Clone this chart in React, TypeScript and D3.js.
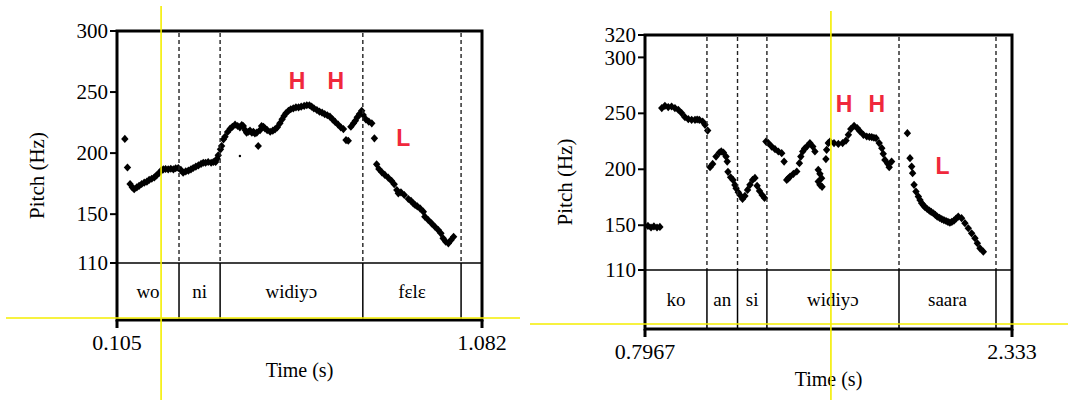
import React from "react";
import * as d3 from "d3";

// ---------- Left panel data ----------
const leftTimeDomain = [0.105, 1.082];
const leftPitchMax = 300;
const leftPitchTicks = [110, 150, 200, 250, 300];
const leftTimeTickLabels = ["0.105", "1.082"];
const leftBoundaries = [0.105, 0.271, 0.381, 0.763, 1.026, 1.082];
const leftWords = ["wo", "ni", "widiyɔ", "fɛlɛ", ""];
const leftTimes = [
  0.126, 0.133, 0.14, 0.146, 0.151, 0.158, 0.164, 0.171, 0.178, 0.185, 0.191, 0.198, 0.205, 0.211,
  0.217, 0.223, 0.229, 0.235, 0.242, 0.249, 0.256, 0.262, 0.269, 0.276, 0.282, 0.289, 0.296, 0.303,
  0.309, 0.316, 0.323, 0.33, 0.336, 0.342, 0.349, 0.357, 0.363, 0.369, 0.373, 0.376, 0.382, 0.385,
  0.39, 0.394, 0.401, 0.408, 0.414, 0.421, 0.428, 0.434, 0.439, 0.443, 0.448, 0.452, 0.457, 0.461,
  0.466, 0.47, 0.474, 0.479, 0.483, 0.488, 0.492, 0.497, 0.501, 0.507, 0.515, 0.522, 0.528, 0.534,
  0.541, 0.547, 0.552, 0.557, 0.564, 0.57, 0.577, 0.584, 0.591, 0.598, 0.606, 0.613, 0.62, 0.626,
  0.632, 0.64, 0.647, 0.654, 0.661, 0.668, 0.675, 0.682, 0.689, 0.697, 0.704, 0.711, 0.718, 0.724,
  0.731, 0.738, 0.743, 0.748, 0.754, 0.76, 0.764, 0.771, 0.779, 0.787, 0.794, 0.8, 0.806, 0.814,
  0.822, 0.831, 0.84, 0.847, 0.854, 0.858, 0.865, 0.874, 0.885, 0.892, 0.898, 0.903, 0.909, 0.916,
  0.925, 0.929, 0.938, 0.947, 0.956, 0.965, 0.972, 0.978, 0.985, 0.992, 0.999, 1.006,
];
const leftPitches = [
  211.6, 188.2, 174.7, 172.0, 170.4, 172.0, 173.1, 174.7, 175.8, 176.6, 178.0, 179.0, 180.2, 181.8,
  183.5, 185.6, 186.7, 187.0, 186.7, 187.2, 186.7, 187.6, 187.8, 186.2, 184.0, 185.1, 185.6, 186.7,
  187.8, 188.9, 190.0, 191.1, 192.1, 192.1, 192.7, 192.1, 192.7, 192.7, 195.4, 198.2, 203.1, 205.8,
  211.3, 213.4, 217.3, 220.0, 221.6, 223.3, 222.2, 221.1, 223.0, 222.2, 218.9, 216.7, 217.5, 218.4,
  216.7, 217.5, 216.2, 216.7, 205.8, 218.9, 222.2, 221.6, 220.3, 218.9, 217.5, 218.4, 219.5, 221.1,
  224.4, 227.7, 230.4, 232.6, 234.7, 235.9, 236.7, 237.5, 237.5, 238.0, 238.6, 239.2, 239.2, 238.0,
  236.7, 235.3, 233.9, 233.1, 232.0, 231.0, 229.8, 227.7, 225.5, 223.3, 221.1, 219.7, 210.7, 210.1,
  221.6, 224.4, 226.5, 229.3, 232.0, 234.7, 231.2, 227.7, 225.7, 224.4, 212.1, 190.8, 187.0, 184.3,
  182.1, 179.9, 177.2, 174.5, 169.8, 167.1, 167.9, 165.7, 162.4, 160.8, 158.9, 157.5, 156.3, 154.8,
  152.0, 147.9, 145.2, 142.5, 139.7, 137.0, 134.3, 130.2, 127.4, 126.1, 128.8, 131.5,
];
const leftDotTimes = [0.434];
const leftDotPitches = [197.6];
const leftToneLabels = ["H", "H", "L"];
const leftToneTimes = [0.587, 0.691, 0.871];
const leftTonePitches = [259, 259, 212.4];
const leftCursorTime = [0.223];

// ---------- Right panel data ----------
const rightTimeDomain = [0.7967, 2.333];
const rightPitchMax = 320;
const rightPitchTicks = [110, 150, 200, 250, 300, 320];
const rightTimeTickLabels = ["0.7967", "2.333"];
const rightBoundaries = [0.7967, 1.056, 1.184, 1.307, 1.86, 2.266, 2.333];
const rightWords = ["ko", "an", "si", "widiyɔ", "saara", ""];
const rightTimes = [
  0.809, 0.822, 0.834, 0.847, 0.859,
  0.867, 0.88, 0.894, 0.908, 0.922, 0.936, 0.95, 0.964, 0.978, 0.992, 1.006, 1.015, 1.024, 1.038, 1.048, 1.059,
  1.069, 1.08, 1.094, 1.108, 1.116, 1.125, 1.136, 1.141, 1.144, 1.155, 1.165, 1.173, 1.178, 1.187,
  1.194, 1.205, 1.215, 1.226, 1.236, 1.247, 1.257, 1.266, 1.276, 1.287, 1.297,
  1.303, 1.313, 1.327, 1.341, 1.355, 1.369, 1.379, 1.39, 1.397, 1.404, 1.418, 1.432, 1.443, 1.449,
  1.457, 1.465, 1.474, 1.487, 1.499, 1.508, 1.522, 1.529, 1.536, 1.522, 1.529, 1.538, 1.554, 1.557,
  1.564, 1.571, 1.588, 1.606, 1.624, 1.638, 1.648, 1.658, 1.672, 1.685, 1.697, 1.711, 1.725, 1.736,
  1.746, 1.755, 1.764, 1.777, 1.788, 1.794, 1.801, 1.813, 1.819, 1.829,
  1.895, 1.906, 1.913, 1.917, 1.923, 1.931, 1.941, 1.948, 1.955, 1.962, 1.969, 1.978, 1.987, 1.995,
  2.004, 2.012, 2.02, 2.03, 2.039, 2.048, 2.057, 2.065, 2.073, 2.081, 2.09, 2.099, 2.108, 2.122,
  2.136, 2.15, 2.164, 2.178, 2.188, 2.199, 2.213,
];
const rightPitches = [
  149.4, 148.0, 148.9, 148.0, 148.5,
  254.7, 256.7, 255.6, 256.1, 254.7, 253.2, 250.2, 246.6, 244.8, 244.2, 244.2, 244.5, 244.2, 242.7, 239.7, 234.6,
  201.9, 204.8, 211.4, 215.0, 216.0, 215.0, 211.4, 206.9, 197.7, 192.9, 190.5, 186.0, 183.0, 179.5,
  177.1, 173.5, 176.2, 181.6, 186.1, 190.5, 192.3, 185.2, 180.7, 177.1, 174.4,
  224.8, 223.4, 220.3, 218.0, 215.9, 214.4, 206.9, 190.5, 191.9, 193.5, 195.9, 198.0, 205.5, 211.4,
  215.9, 218.5, 220.3, 223.4, 220.3, 215.9, 199.5, 195.9, 192.1, 189.0, 186.1, 184.3, 209.1, 217.4,
  223.4, 224.8, 223.4, 222.7, 223.4, 225.7, 230.8, 235.9, 238.9, 236.8, 233.8, 230.8, 229.3, 229.0,
  228.7, 228.2, 227.8, 223.4, 218.9, 213.8, 208.4, 204.9, 201.9, 206.9,
  232.3, 209.9, 202.4, 196.5, 186.1, 180.1, 175.6, 172.5, 169.7, 167.8, 166.1, 164.5, 163.1, 161.9,
  160.7, 159.2, 157.7, 156.5, 155.4, 154.6, 153.8, 153.0, 152.3, 153.0, 154.1, 156.0, 157.7, 156.3,
  151.8, 147.3, 142.8, 138.4, 133.9, 129.4, 126.4,
];
const rightDotTimes: number[] = [];
const rightDotPitches: number[] = [];
const rightToneLabels = ["H", "H", "L"];
const rightToneTimes = [1.63, 1.767, 2.042];
const rightTonePitches = [258.5, 258.5, 203.1];
const rightCursorTime = [1.575];

// ---------- Layout / style ----------
const W = 1068;
const H = 400;
const SERIF = "'Liberation Serif', 'Times New Roman', 'DejaVu Serif', serif";
const SANS = "'Liberation Sans', Arial, 'DejaVu Sans', sans-serif";
const RED = "#f0283c";
const YELLOW = "#f4ee00";
const DIAMOND = "M0,-4.1L3.7,0L0,4.1L-3.7,0Z";

type PanelProps = {
  box: { left: number; right: number; top: number; tierY: number; bottom: number };
  timeDomain: number[];
  pitchMax: number;
  pitchTicks: number[];
  timeTickLabels: string[];
  boundaries: number[];
  words: string[];
  times: number[];
  pitches: number[];
  dotTimes: number[];
  dotPitches: number[];
  toneLabels: string[];
  toneTimes: number[];
  tonePitches: number[];
  cursorTime: number[];
  cursorTop: number;
  hLine: { y: number; x0: number; x1: number };
};

function Panel(p: PanelProps) {
  const { box } = p;
  const x = d3.scaleLinear().domain(p.timeDomain).range([box.left, box.right]);
  const y = d3.scaleLinear().domain([110, p.pitchMax]).range([box.tierY, box.top]);
  const inner = p.boundaries.slice(1, -1);
  const midY = (box.top + box.bottom) / 2;
  return (
    <g>
      {p.times.map((t, i) => (
        <path key={"p" + i} d={DIAMOND} transform={`translate(${x(t)},${y(p.pitches[i])})`} fill="#000" />
      ))}
      {p.dotTimes.map((t, i) => (
        <circle key={"d" + i} cx={x(t)} cy={y(p.dotPitches[i])} r={1.2} fill="#000" />
      ))}
      {inner.map((b, i) => (
        <line key={"db" + i} x1={x(b)} x2={x(b)} y1={box.top + 2} y2={box.tierY}
          stroke="#222" strokeWidth={1.4} strokeDasharray="4,3" />
      ))}
      <line x1={box.left} x2={box.right} y1={box.tierY} y2={box.tierY} stroke="#000" strokeWidth={1.5} />
      {inner.map((b, i) => (
        <line key={"tb" + i} x1={x(b)} x2={x(b)} y1={box.tierY} y2={box.bottom} stroke="#000" strokeWidth={1.5} />
      ))}
      {p.words.map((w, i) =>
        w ? (
          <text key={"w" + i} x={(x(p.boundaries[i]) + x(p.boundaries[i + 1])) / 2}
            y={(box.tierY + box.bottom) / 2} dy="0.35em" textAnchor="middle"
            fontFamily={SERIF} fontSize={19} fill="#000">{w}</text>
        ) : null
      )}
      <rect x={box.left} y={box.top} width={box.right - box.left} height={box.bottom - box.top}
        fill="none" stroke="#000" strokeWidth={3} />
      {p.pitchTicks.map((v, i) => (
        <g key={"yt" + i}>
          <line x1={box.left - 7} x2={box.left} y1={y(v)} y2={y(v)} stroke="#000" strokeWidth={2} />
          <text x={box.left - 9} y={y(v)} dy="0.34em" textAnchor="end" fontFamily={SERIF} fontSize={21} fill="#000">{v}</text>
        </g>
      ))}
      {p.timeDomain.map((t, i) => (
        <g key={"xt" + i}>
          <line x1={x(t)} x2={x(t)} y1={box.bottom} y2={box.bottom + 8} stroke="#000" strokeWidth={3} />
          <text x={x(t)} y={box.bottom + 30} textAnchor="middle" fontFamily={SERIF} fontSize={22} fill="#000">{p.timeTickLabels[i]}</text>
        </g>
      ))}
      <text x={(box.left + box.right) / 2} y={box.bottom + 57} textAnchor="middle" fontFamily={SERIF} fontSize={20} fill="#000">Time (s)</text>
      <text transform={`translate(${box.left - 80},${midY}) rotate(-90)`} textAnchor="middle" dy="0.35em"
        fontFamily={SERIF} fontSize={21} fill="#000">Pitch (Hz)</text>
      {p.toneLabels.map((l, i) => (
        <text key={"tl" + i} x={x(p.toneTimes[i])} y={y(p.tonePitches[i])} dy="0.36em" textAnchor="middle"
          fontFamily={SANS} fontWeight="bold" fontSize={23} fill={RED}>{l}</text>
      ))}
      {p.cursorTime.map((t, i) => (
        <line key={"cv" + i} x1={x(t)} x2={x(t)} y1={p.cursorTop} y2={H} stroke={YELLOW} strokeWidth={1.6} />
      ))}
      <line x1={p.hLine.x0} x2={p.hLine.x1} y1={p.hLine.y} y2={p.hLine.y} stroke={YELLOW} strokeWidth={1.6} />
    </g>
  );
}

export default function App() {
  return (
    <svg width={W} height={H} viewBox={`0 0 ${W} ${H}`}
      style={{ position: "absolute", left: 0, top: 0, background: "#fff" }}>
      <rect x={0} y={0} width={W} height={H} fill="#fff" />
      <Panel
        box={{ left: 117, right: 482, top: 31, tierY: 263, bottom: 320 }}
        timeDomain={leftTimeDomain} pitchMax={leftPitchMax} pitchTicks={leftPitchTicks}
        timeTickLabels={leftTimeTickLabels} boundaries={leftBoundaries} words={leftWords}
        times={leftTimes} pitches={leftPitches} dotTimes={leftDotTimes} dotPitches={leftDotPitches}
        toneLabels={leftToneLabels} toneTimes={leftToneTimes} tonePitches={leftTonePitches}
        cursorTime={leftCursorTime} cursorTop={6} hLine={{ y: 318, x0: 6, x1: 520 }}
      />
      <Panel
        box={{ left: 645, right: 1012, top: 35, tierY: 270, bottom: 329 }}
        timeDomain={rightTimeDomain} pitchMax={rightPitchMax} pitchTicks={rightPitchTicks}
        timeTickLabels={rightTimeTickLabels} boundaries={rightBoundaries} words={rightWords}
        times={rightTimes} pitches={rightPitches} dotTimes={rightDotTimes} dotPitches={rightDotPitches}
        toneLabels={rightToneLabels} toneTimes={rightToneTimes} tonePitches={rightTonePitches}
        cursorTime={rightCursorTime} cursorTop={11} hLine={{ y: 324, x0: 530, x1: 1068 }}
      />
    </svg>
  );
}
